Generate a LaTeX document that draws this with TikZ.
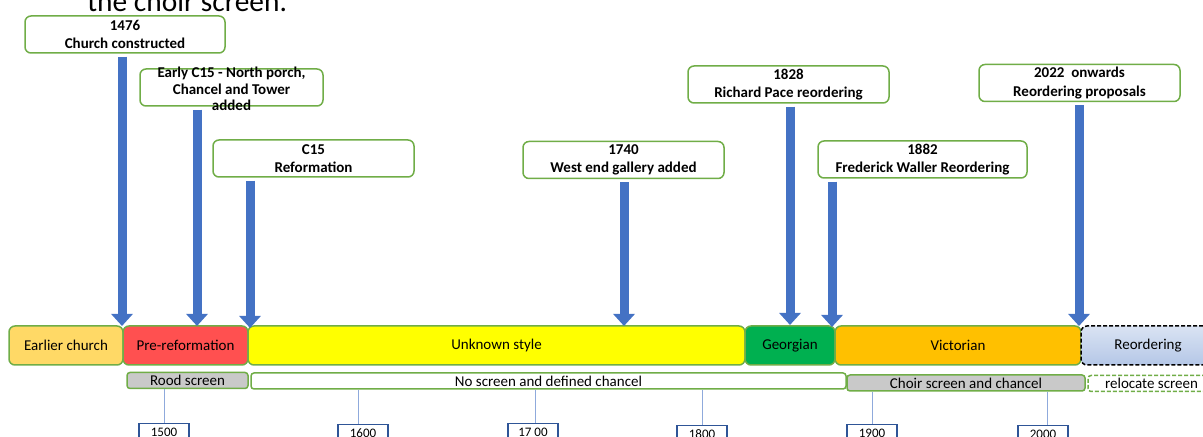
\documentclass[tikz,border=0pt]{standalone}
\usepackage{fontspec}
\setmainfont{Carlito}
\usepackage{xcolor}
\usepackage{tikz}
\usetikzlibrary{arrows.meta,positioning}

\definecolor{boxgreen}{HTML}{70AD47}
\definecolor{arrblue}{HTML}{4472C4}
\definecolor{tickblue}{HTML}{8FAADC}
\definecolor{yearblue}{HTML}{2F5597}
\definecolor{earlier}{HTML}{FFD966}
\definecolor{prered}{HTML}{FF5050}
\definecolor{unknown}{HTML}{FFFF00}
\definecolor{georg}{HTML}{00B050}
\definecolor{vict}{HTML}{FFC000}
\definecolor{screengray}{HTML}{C9C9C9}
\definecolor{reordtop}{HTML}{DAE3F3}
\definecolor{reordbot}{HTML}{B4C7E7}

\begin{document}
\begin{tikzpicture}[x=0.5pt, y=-0.5pt,
    callout/.style={draw=boxgreen, line width=0.75pt, fill=white, rounded corners=3pt,
      minimum height=18.5pt, inner sep=0pt, align=center,
      font=\bfseries\fontsize{7.5}{9.3}\selectfont},
    period/.style={draw=boxgreen, line width=0.75pt, rounded corners=3pt,
      minimum height=19.5pt, inner sep=0pt, font=\fontsize{7.5}{9}\selectfont},
    screen/.style={draw=boxgreen, line width=0.75pt, rounded corners=1.5pt,
      minimum height=8pt, inner sep=0pt, font=\fontsize{7.5}{9}\selectfont},
    year/.style={draw=yearblue, line width=0.6pt, fill=white, minimum width=25pt,
      minimum height=9pt, inner sep=0pt, anchor=north, font=\fontsize{6.5}{8}\selectfont},
    event/.style={draw=arrblue, line width=4.5pt, shorten <=1.5pt,
      -{Triangle[width=10.5pt,length=6pt]}},
    tick/.style={draw=tickblue, line width=0.5pt}]
  \useasboundingbox (0,0) rectangle (1203,437);
  \clip (0,0) rectangle (1203,437);

  \node[anchor=base west, inner sep=0pt, font=\fontsize{14.7}{17}\selectfont] (title) at (87,12) {the choir screen.};

  \node[callout, minimum width=100pt] (c1) at (125,34.5) {1476\\Church constructed};
  \node[callout, minimum width=91.5pt] (c2) at (231.5,87.5) {};
  \node[callout, minimum width=100.5pt] (c3) at (313.5,158.5) {C15\\Reformation};
  \node[callout, minimum width=100.5pt] (c4) at (623.5,160) {1740\\West end gallery added};
  \node[callout, minimum width=100.5pt] (c5) at (788.5,84.5) {1828\\Richard Pace reordering};
  \node[callout, minimum width=104.5pt] (c6) at (922.5,159.5) {1882\\Frederick Waller Reordering};
  \node[callout, minimum width=100.5pt] (c7) at (1079.5,83) {2022~ onwards\\Reordering proposals};

  \node[period, fill=earlier, minimum width=57pt] (p1) at (66,345.5) {Earlier church};
  \node[period, fill=prered, minimum width=62.5pt] (p2) at (185.5,345.5) {Pre-reformation};
  \node[period, fill=unknown, minimum width=248.5pt] (p3) at (496.5,345.5) {Unknown style};
  \node[period, fill=georg, minimum width=45pt] (p4) at (790,345.5) {Georgian};
  \node[period, fill=vict, minimum width=123pt] (p5) at (958,345.5) {Victorian};
  \node[period, draw=black, dash pattern=on 2pt off 1pt, top color=reordtop, bottom color=reordbot,
    minimum width=67pt] (p6) at (1148,345.5) {Reordering};

  \node[screen, fill=screengray, minimum width=60.5pt] (s1) at (187.5,380.5) {Rood screen};
  \node[screen, fill=white, minimum width=297.5pt] (s2) at (548.5,381) {No screen and defined chancel};
  \node[screen, fill=screengray, minimum width=119pt] (s3) at (966,383) {Choir screen and chancel};
  \node[screen, fill=white, dash pattern=on 2pt off 1pt, minimum width=63.5pt] (s4) at (1151.5,383.5) {relocate screen};

  \node[year] (y1) at (164,423) {1500};
  \node[year] (y2) at (363,424) {1600};
  \node[year] (y3) at (533,423) {17 00};
  \node[year] (y4) at (702,425) {1800};
  \node[year] (y5) at (872,424) {1900};
  \node[year] (y6) at (1043,425) {2000};

  \draw[tick] (s1.south -| y1) -- (y1);
  \draw[tick] ([xshift=-2.5pt]s2.south -| y2) -- ([xshift=-2.5pt]y2.north);
  \draw[tick] ([xshift=1pt]s2.south -| y3) -- ([xshift=1pt]y3.north);
  \draw[tick] (s2.south -| y4) -- (y4);
  \draw[tick] (s3.south -| y5) -- (y5);
  \draw[tick] ([xshift=2pt]s3.south -| y6) -- ([xshift=2pt]y6.north);

  \coordinate (t1) at (122,326);
  \coordinate (t2) at (197,326);
  \coordinate (t3) at (250,328);
  \coordinate (t4) at (624,326);
  \coordinate (t5) at (790,325);
  \coordinate (t6) at (832,327);
  \coordinate (t7) at (1079,326);

  \draw[event] (c1.south -| t1) -- (t1);
  \draw[event] (c2.south -| t2) -- (t2);
  \draw[event] (c3.south -| t3) -- (t3);
  \draw[event] (c4.south -| t4) -- (t4);
  \draw[event] (c5.south -| t5) -- (t5);
  \draw[event] (c6.south -| t6) -- (t6);
  \draw[event] (c7.south -| t7) -- (t7);

  \node[align=center, inner sep=0pt, font=\bfseries\fontsize{7.5}{8.2}\selectfont] (c2text) at (231.5,89)
    {Early C15 - North porch,\\Chancel and Tower\\added};
\end{tikzpicture}
\end{document}
